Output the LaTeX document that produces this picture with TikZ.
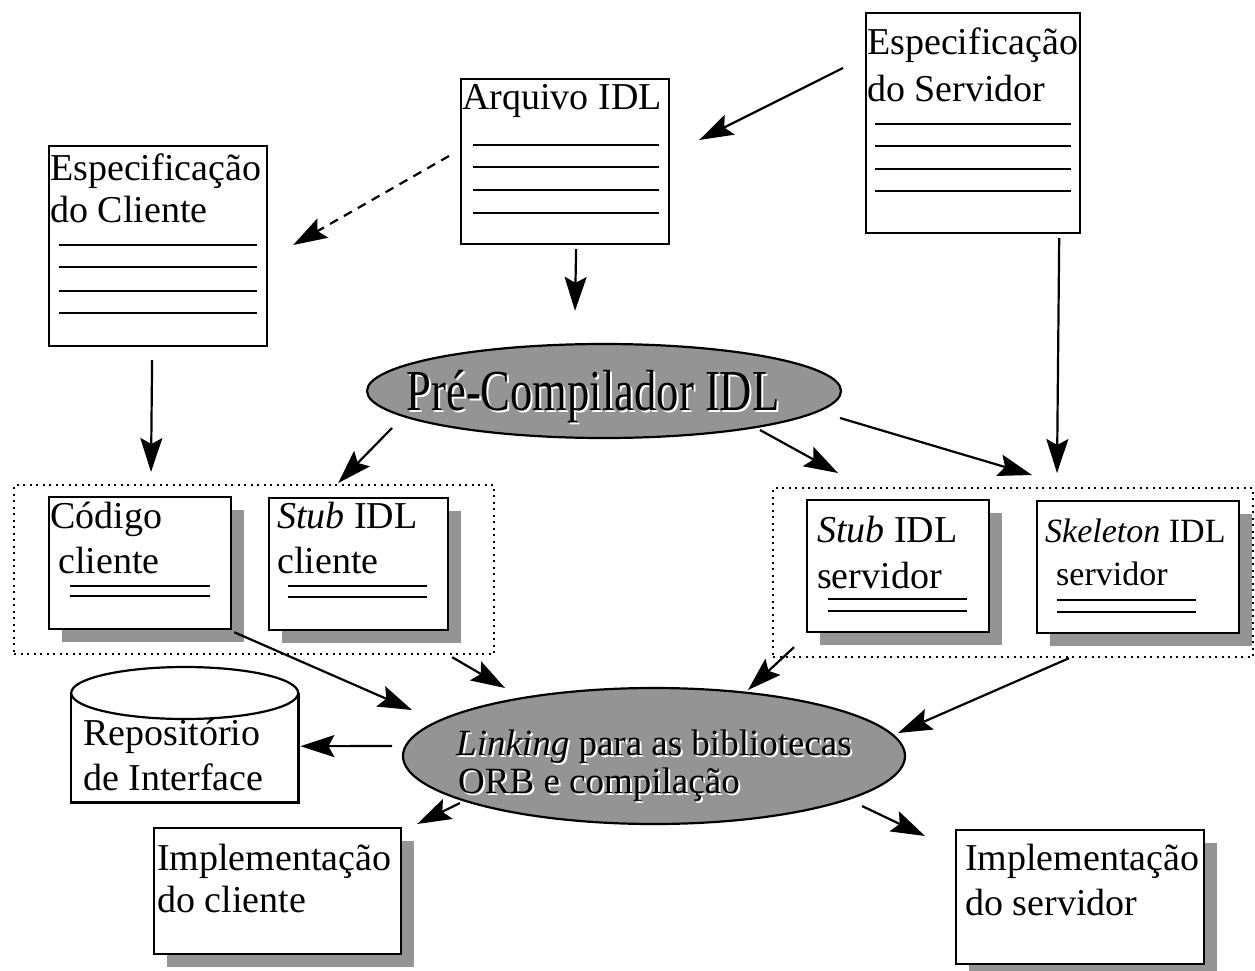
\documentclass[tikz,border=0pt]{standalone}
\usepackage{fontspec}
\setmainfont{Liberation Serif}
\usepackage{graphicx}
\usetikzlibrary{arrows.meta,calc,shapes.geometric,shadows}
\newcommand\bodyfont{\fontsize{38}{44}\selectfont}
\newcommand\smallbody{\fontsize{34}{40}\selectfont}
\newcommand\bigbody{\fontsize{44.6}{50}\selectfont}
\newcommand\linkfont{\fontsize{37}{40}\selectfont}

\begin{document}
\begin{tikzpicture}[x=1pt,y=-1pt,
  doc/.style={draw, line width=2.2pt, fill=white, inner sep=0pt, anchor=north west},
  shadowed/.style={drop shadow={shadow xshift=13pt, shadow yshift=-13pt, fill=black!42, opacity=1}},
  rule/.style={line width=2.4pt},
  txt/.style={inner sep=0pt, anchor=base west, font=\bodyfont},
  group/.style={draw, line width=2.2pt, dash pattern=on 2pt off 4.5pt, inner sep=0pt, anchor=north west},
  blob/.style={ellipse, draw, line width=2.2pt, fill=black!42, inner sep=0pt},
  arr/.style={line width=2.2pt, -{Stealth[length=34pt,width=22pt,inset=6pt]}},
  halo/.style={inner sep=0pt, text=white}
]
\useasboundingbox (0,0) rectangle (1255,971);

% dotted groups
\node[group, minimum width=480pt, minimum height=169pt] (grpL) at (13,484) {};
\node[group, minimum width=480pt, minimum height=169pt] (grpR) at (772,487) {};

% specification and IDL documents
\node[doc, minimum width=214pt, minimum height=220pt] (serv) at (865,12) {};
\node[doc, minimum width=208pt, minimum height=165pt] (arq) at (460,78) {};
\node[doc, minimum width=218pt, minimum height=200pt] (cli) at (48,145) {};

\node[txt] (servT1) at (867,55) {Especificação};
\node[txt] (servT2) at (867,102) {do Servidor};
\node[txt] (arqT) at (462,110) {Arquivo IDL};
\node[txt] (cliT1) at (50,180) {Especificação};
\node[txt] (cliT2) at (50,222) {do Cliente};

\foreach \dy in {112,134,157,179} \draw[rule] ($(serv.north west)+(10,\dy)$) -- ++(196,0);
\foreach \dy in {67,89,112,135} \draw[rule] ($(arq.north west)+(13,\dy)$) -- ++(186,0);
\foreach \dy in {100,122,146,168} \draw[rule] ($(cli.north west)+(11,\dy)$) -- ++(198,0);

% pre-compiler
\node[blob, minimum width=474pt, minimum height=94pt] (pre) at (604,391) {};
\node[halo, anchor=base] (preH) at (595,412) {\bigbody\scalebox{1}[1.3]{Pré-Compilador IDL}};
\node[inner sep=0pt, anchor=base] (preT) at (593,410) {\bigbody\scalebox{1}[1.3]{Pré-Compilador IDL}};

% generated code
\node[doc, shadowed, minimum width=182pt, minimum height=132pt] (cod) at (48,496) {};
\node[doc, shadowed, minimum width=179pt, minimum height=132pt] (stubC) at (268,497) {};
\node[doc, shadowed, minimum width=182pt, minimum height=132pt] (stubS) at (806,499) {};
\node[doc, shadowed, minimum width=202pt, minimum height=132pt] (skel) at (1036,500) {};

\node[txt] (codT1) at (50,528) {Código};
\node[txt] (codT2) at (58,573) {cliente};
\node[txt] (stubCT1) at (277,528) {\textit{Stub} IDL};
\node[txt] (stubCT2) at (277,573) {cliente};
\node[txt] (stubST1) at (817,542) {\textit{Stub} IDL};
\node[txt] (stubST2) at (817,588) {servidor};
\node[txt, font=\smallbody] (skelT1) at (1045,542) {\textit{Skeleton} IDL};
\node[txt, font=\smallbody] (skelT2) at (1056,585) {servidor};

\foreach \dy in {90,100} \draw[rule] ($(cod.north west)+(22,\dy)$) -- ++(140,0);
\foreach \dy in {89,100} \draw[rule] ($(stubC.north west)+(20,\dy)$) -- ++(139,0);
\foreach \dy in {100,112} \draw[rule] ($(stubS.north west)+(22,\dy)$) -- ++(139,0);
\foreach \dy in {100,112} \draw[rule] ($(skel.north west)+(21,\dy)$) -- ++(139,0);

% linking
\node[blob, minimum width=502pt, minimum height=136pt] (link) at (654,756) {};
\node[halo, anchor=base west] (linkH1) at (458,757) {\linkfont\textit{Linking} para as bibliotecas};
\node[halo, anchor=base west] (linkH2) at (460,795) {\linkfont ORB e compilação};
\node[inner sep=0pt, anchor=base west] (linkT1) at (456,755) {\linkfont\textit{Linking} para as bibliotecas};
\node[inner sep=0pt, anchor=base west] (linkT2) at (458,793) {\linkfont ORB e compilação};

% interface repository
\node[inner sep=0pt, minimum width=227pt, minimum height=135pt, anchor=north west] (rep) at (71,667) {};
\draw[line width=2.2pt] ($(rep.north west)+(0,26)$) -- (rep.south west) -- (rep.south east) -- ($(rep.north east)+(0,26)$);
\draw[line width=2.2pt] ($(rep.north)+(0,26)$) ellipse [x radius=113.5pt, y radius=26pt];
\node[txt] (repT1) at (83,745) {Repositório};
\node[txt] (repT2) at (83,790) {de Interface};

% implementations
\node[doc, shadowed, minimum width=247pt, minimum height=126pt] (implC) at (153,827) {};
\node[doc, shadowed, minimum width=248pt, minimum height=134pt] (implS) at (955,829) {};
\node[txt] (implCT1) at (157,870) {Implementação};
\node[txt] (implCT2) at (157,912) {do cliente};
\node[txt] (implST1) at (965,870) {Implementação};
\node[txt] (implST2) at (965,915) {do servidor};

% connectors
\draw[arr] ($(serv.north west)+(-22,56)$) -- ($(arq.north east)+(29,62)$);
\draw[arr, dash pattern=on 9pt off 7pt] ($(arq.north west)+(-11,78)$) -- ($(cli.north east)+(25,100)$);
\draw[arr] ($(arq.south)+(11,4)$) -- ($(pre.north)+(-29,-32)$);
\draw[arr] ($(cli.south)+(-6,13)$) -- ($(grpL.north west)+(138,-12)$);
\draw[arr] ($(pre.center)+(-212,37)$) -- ($(grpL.north east)+(-157,-1)$);
\draw[arr] ($(pre.center)+(156,39)$) -- ($(grpR.north west)+(66,-14)$);
\draw[arr] ($(pre.center)+(236,27)$) -- ($(grpR.north west)+(260,-12)$);
\draw[arr] ($(serv.south east)+(-22,4)$) -- ($(grpR.north west)+(285,-14)$);
\draw[arr] ($(cod.south east)+(2,2)$) -- ($(link.center)+(-242,-46)$);
\draw[arr] ($(grpL.south east)+(-43,2)$) -- ($(link.center)+(-149,-68)$);
\draw[arr] ($(grpR.south west)+(22,-11)$) -- ($(link.center)+(94,-66)$);
\draw[arr] ($(grpR.south west)+(297,0)$) -- ($(link.center)+(244,-23)$);
\draw[arr] ($(link.center)+(-262,-10)$) -- ($(rep.east)+(2,11.5)$);
\draw[arr] ($(link.center)+(-194,47)$) -- ($(implC.north east)+(15,-3)$);
\draw[arr] ($(link.center)+(208,50)$) -- ($(implS.north west)+(-30,7)$);
\end{tikzpicture}
\end{document}
